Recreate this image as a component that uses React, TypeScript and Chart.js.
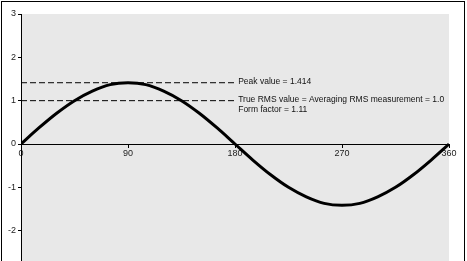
import React, { useEffect, useRef } from "react";
import { Chart, registerables } from "chart.js";

Chart.register(...registerables);

// Phase angle in degrees and the instantaneous value
const angles = [0, 15, 30, 45, 60, 75, 90, 105, 120, 135, 150, 165, 180, 195, 210, 225, 240, 255, 270, 285, 300, 315, 330, 345, 360];
const voltage = [0, 0.37, 0.71, 1.0, 1.22, 1.37, 1.414, 1.37, 1.22, 1.0, 0.71, 0.37, 0, -0.37, -0.71, -1.0, -1.22, -1.37, -1.414, -1.37, -1.22, -1.0, -0.71, -0.37, 0];

// Reference levels
const peakValue = 1.414;
const rmsValue = 1.0;
const refLineStart = 0;
const refLineEnd = 181;

// Axis ranges / ticks
const xMin = 0;
const xMax = 360;
const xStep = 90;
const yMin = -3;
const yMax = 3;
const yStep = 1;

// Annotation texts
const annotationTexts = [
  "Peak value = 1.414",
  "True RMS value = Averaging RMS measurement = 1.0",
  "Form factor = 1.11",
];

const FONT = "'Liberation Sans', Arial, sans-serif";

const decorPlugin = {
  id: "decor",
  beforeDraw(chart: any) {
    const { ctx, chartArea: a } = chart;
    ctx.save();
    ctx.fillStyle = "#e8e8e8";
    ctx.fillRect(a.left, a.top, a.right - a.left, a.bottom - a.top);
    ctx.restore();
  },
  afterDraw(chart: any) {
    const { ctx } = chart;
    const xs = chart.scales.x;
    const ys = chart.scales.y;
    ctx.save();
    ctx.font = `8.5px ${FONT}`;
    ctx.fillStyle = "#111";
    ctx.textBaseline = "middle";
    ctx.textAlign = "left";
    const tx = xs.getPixelForValue(refLineEnd) + 2;
    ctx.fillText(annotationTexts[0], tx, ys.getPixelForValue(peakValue) - 1);
    ctx.fillText(annotationTexts[1], tx, ys.getPixelForValue(rmsValue) - 1);
    ctx.fillText(annotationTexts[2], tx, ys.getPixelForValue(rmsValue) + 9);
    ctx.strokeStyle = "#000";
    ctx.lineWidth = 1;
    ctx.strokeRect(1.5, 1.5, 463, 320);
    ctx.restore();
  },
};

export default function App() {
  const ref = useRef<HTMLCanvasElement | null>(null);

  useEffect(() => {
    if (!ref.current) return;
    Chart.defaults.font.family = FONT;
    const chart = new Chart(ref.current, {
      type: "line",
      data: {
        datasets: [
          {
            label: "Sine",
            data: angles.map((a, i) => ({ x: a, y: voltage[i] })),
            borderColor: "#000",
            borderWidth: 3,
            pointRadius: 0,
            cubicInterpolationMode: "monotone",
            fill: false,
          },
          {
            label: "Peak",
            data: [
              { x: refLineStart, y: peakValue },
              { x: refLineEnd, y: peakValue },
            ],
            borderColor: "#000",
            borderWidth: 1,
            borderDash: [6, 3],
            pointRadius: 0,
            fill: false,
          },
          {
            label: "RMS",
            data: [
              { x: refLineStart, y: rmsValue },
              { x: refLineEnd, y: rmsValue },
            ],
            borderColor: "#000",
            borderWidth: 1,
            borderDash: [6, 3],
            pointRadius: 0,
            fill: false,
          },
        ],
      },
      options: {
        animation: false,
        responsive: false,
        layout: { padding: { left: 0, top: 14, right: 18, bottom: 10 } },
        plugins: {
          legend: { display: false },
          tooltip: { enabled: false },
        },
        scales: {
          x: {
            type: "linear",
            position: { y: 0 } as any,
            min: xMin,
            max: xMax,
            ticks: {
              stepSize: xStep,
              autoSkip: false,
              maxRotation: 0,
              color: "#222",
              font: { size: 9 },
              padding: 1,
            },
            grid: {
              drawOnChartArea: false,
              drawTicks: true,
              tickLength: 3,
              color: "#000",
            },
            border: { color: "#000", width: 1 },
          },
          y: {
            type: "linear",
            min: yMin,
            max: yMax,
            ticks: {
              stepSize: yStep,
              includeBounds: false,
              color: "#222",
              font: { size: 9 },
              padding: 2,
            },
            grid: {
              drawOnChartArea: false,
              drawTicks: true,
              tickLength: 3,
              color: "#000",
            },
            border: { color: "#000", width: 1 },
            afterFit: (s: any) => {
              s.width = 21;
            },
          },
        },
      },
      plugins: [decorPlugin],
    });
    return () => chart.destroy();
  }, []);

  return (
    <div
      style={{
        position: "absolute",
        left: 0,
        top: 0,
        width: 467,
        height: 261,
        overflow: "hidden",
        background: "#fff",
      }}
    >
      <canvas ref={ref} width={467} height={284} style={{ display: "block" }} />
    </div>
  );
}
